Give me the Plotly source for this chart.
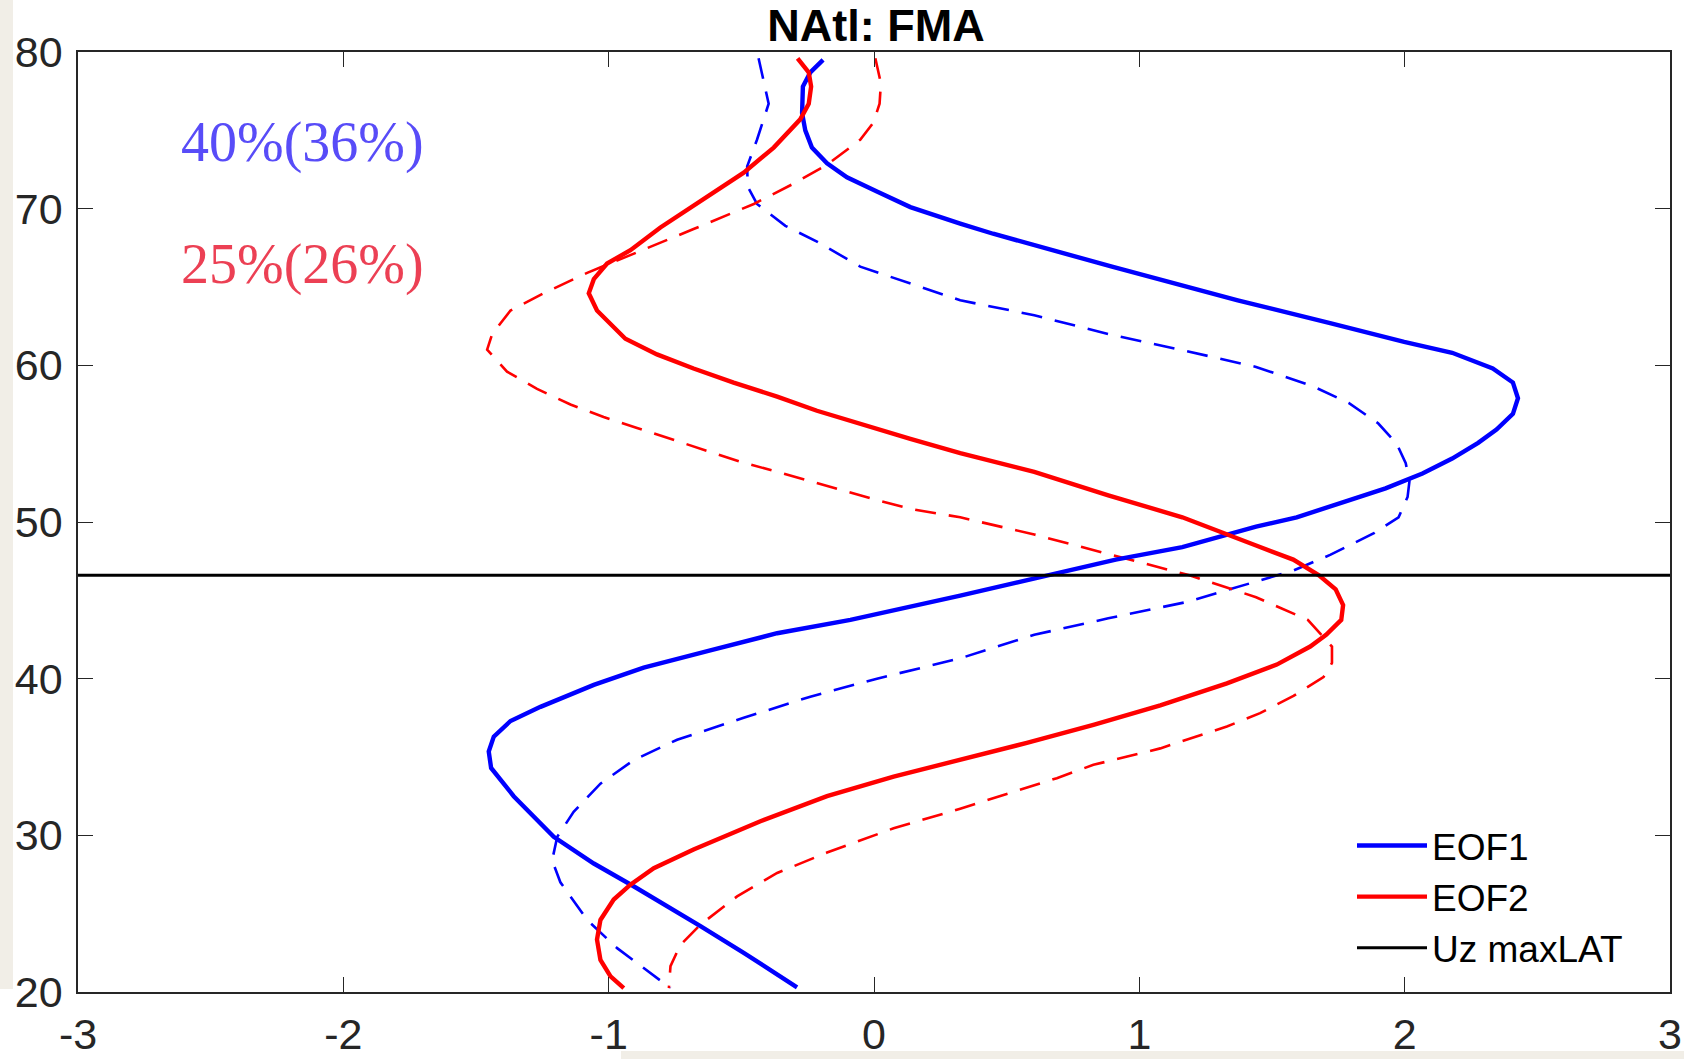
import plotly.graph_objects as go

# ---------------- data ----------------
eof1_lat = [79.5, 78.7, 77.8, 76.1, 75.0, 73.9, 72.9, 72.0, 71.1, 70.1, 69.05, 68.4, 66.3,
            64.15, 62.7, 61.5, 60.8, 59.8, 58.9, 57.9, 56.9, 55.9, 55.05, 54.05, 53.1, 52.15,
            51.3, 50.3, 49.7, 48.4, 47.6, 46.6, 45.3, 43.75, 42.9, 41.8, 40.7, 39.6, 38.2,
            37.3, 36.3, 35.35, 34.3, 32.5, 29.9, 28.2, 26.75, 24.2, 22.5, 20.3]
eof1_val = [-0.192, -0.24, -0.268, -0.271, -0.259, -0.234, -0.177, -0.102, 0.011, 0.137, 0.325,
            0.449, 0.897, 1.371, 1.719, 1.998, 2.179, 2.332, 2.408, 2.427, 2.408, 2.346, 2.277,
            2.179, 2.067, 1.928, 1.775, 1.593, 1.44, 1.162, 0.911, 0.66, 0.325, -0.089, -0.365,
            -0.617, -0.868, -1.056, -1.257, -1.37, -1.433, -1.452, -1.443, -1.358, -1.207,
            -1.056, -0.906, -0.654, -0.491, -0.29]

eof1_ref_lat = [79.6, 76.7, 74.4, 72.7, 71.4, 70.3, 68.9, 67.9, 66.3, 65.2, 64.15, 63.2, 62.0,
                60.97, 59.9, 58.7, 57.6, 56.3, 55.0, 53.75, 52.6, 51.6, 50.3, 49.3, 47.9, 46.9,
                46.2, 44.9, 43.85, 42.8, 41.3, 40.0, 38.85, 37.5, 36.1, 34.8, 33.3, 31.5, 29.9,
                28.4, 27.0, 24.6, 22.8, 21.4, 20.25]
eof1_ref_val = [-0.435, -0.397, -0.441, -0.478, -0.476, -0.441, -0.334, -0.215, -0.052, 0.137,
                0.325, 0.604, 0.883, 1.162, 1.44, 1.649, 1.789, 1.9, 1.97, 2.004, 2.018, 2.011,
                1.977, 1.886, 1.719, 1.58, 1.44, 1.18, 0.883, 0.604, 0.325, 0.011, -0.24, -0.491,
                -0.742, -0.906, -1.031, -1.132, -1.194, -1.213, -1.182, -1.081, -0.968, -0.855,
                -0.767]

eof2_lat = [79.6, 78.7, 77.8, 76.7, 75.7, 73.9, 72.3, 70.5, 68.8, 67.35, 66.5, 65.5, 64.6,
            63.5, 61.7, 60.7, 59.8, 58.9, 58.0, 57.1, 56.25, 55.3, 54.4, 53.2, 51.7, 50.3, 48.5,
            47.6, 46.6, 45.7, 44.7, 43.75, 42.8, 42.05, 40.9, 39.7, 38.3, 37.05, 35.9, 34.8,
            33.75, 32.5, 30.9, 29.1, 27.9, 26.85, 25.9, 24.6, 23.35, 22.05, 21.0, 20.25]
eof2_val = [-0.288, -0.246, -0.237, -0.246, -0.278, -0.378, -0.491, -0.654, -0.805, -0.918,
            -1.006, -1.056, -1.075, -1.044, -0.937, -0.818, -0.68, -0.529, -0.365, -0.215,
            -0.052, 0.137, 0.325, 0.604, 0.883, 1.162, 1.44, 1.58, 1.677, 1.74, 1.768, 1.761,
            1.704, 1.644, 1.518, 1.33, 1.079, 0.827, 0.576, 0.325, 0.074, -0.177, -0.428, -0.68,
            -0.83, -0.918, -0.981, -1.031, -1.044, -1.031, -0.993, -0.943]

eof2_ref_lat = [79.6, 78.0, 76.7, 75.5, 74.4, 72.8, 71.6, 70.3, 68.7, 67.1, 65.9, 64.6, 63.5,
                62.0, 61.0, 59.6, 58.5, 57.5, 56.7, 56.0, 55.3, 54.5, 53.85, 53.2, 52.6, 52.0,
                51.4, 50.8, 50.3, 49.2, 47.8, 46.6, 45.2, 43.75, 42.05, 41.0, 40.1, 38.9, 37.8,
                36.95, 35.55, 34.5, 33.65, 31.7, 30.45, 28.9, 27.6, 26.1, 24.3, 23.0, 21.65, 20.25]
eof2_ref_val = [0.005, 0.026, 0.021, -0.002, -0.052, -0.177, -0.303, -0.453, -0.68, -0.906,
                -1.081, -1.245, -1.37, -1.439, -1.458, -1.383, -1.27, -1.144, -1.019, -0.893,
                -0.767, -0.629, -0.504, -0.365, -0.24, -0.114, 0.011, 0.149, 0.325, 0.604, 0.925,
                1.189, 1.44, 1.635, 1.726, 1.726, 1.694, 1.581, 1.455, 1.33, 1.079, 0.827, 0.689,
                0.325, 0.074, -0.177, -0.365, -0.516, -0.654, -0.73, -0.767, -0.773]

uz_maxlat = 46.6
x_range = [-3, 3]
y_range = [20, 80]
x_ticks = [-3, -2, -1, 0, 1, 2, 3]
y_ticks = [20, 30, 40, 50, 60, 70, 80]
title_text = "NAtl: FMA"
var_eof1 = "40%(36%)"
var_eof2 = "25%(26%)"

# ---------------- figure ----------------
W, H = 1684, 1059
ML, MR, MT, MB = 78, 14, 52, 67
pw, ph = W - ML - MR, H - MT - MB

BLUE = "rgb(0,0,255)"
RED = "rgb(255,0,0)"

fig = go.Figure()

fig.add_trace(go.Scatter(x=eof1_ref_val, y=eof1_ref_lat, mode="lines", showlegend=False,
                         line=dict(color=BLUE, width=2.6, dash="21px,13px"), hoverinfo="skip"))
fig.add_trace(go.Scatter(x=eof2_ref_val, y=eof2_ref_lat, mode="lines", showlegend=False,
                         line=dict(color=RED, width=2.6, dash="21px,13px"), hoverinfo="skip"))
fig.add_trace(go.Scatter(x=eof1_val, y=eof1_lat, mode="lines", name="EOF1",
                         line=dict(color=BLUE, width=4.4)))
fig.add_trace(go.Scatter(x=eof2_val, y=eof2_lat, mode="lines", name="EOF2",
                         line=dict(color=RED, width=4.4)))
fig.add_trace(go.Scatter(x=x_range, y=[uz_maxlat, uz_maxlat], mode="lines", name="Uz maxLAT",
                         line=dict(color="black", width=2.8)))

tickfont = dict(family="Liberation Sans, Arial, Helvetica, sans-serif", size=43, color="#262626")
axis_common = dict(showgrid=False, zeroline=False, showline=True, mirror="ticks",
                   linecolor="#262626", linewidth=1.5, ticks="inside", ticklen=15,
                   tickwidth=1.2, tickcolor="#262626", tickfont=tickfont, automargin=False)

fig.update_xaxes(range=x_range, tickvals=x_ticks, ticktext=[str(v) for v in x_ticks],
                 ticklabelstandoff=4, **axis_common)
fig.update_yaxes(range=y_range, tickvals=y_ticks, ticktext=[str(v) for v in y_ticks],
                 ticklabelstandoff=5, **axis_common)

# explained-variance labels
fig.add_annotation(x=-2.62, y=74.2, xref="x", yref="y", text=var_eof1, showarrow=False,
                   xanchor="left", yanchor="middle",
                   font=dict(family="Liberation Serif, Times New Roman, serif", size=56,
                             color="rgb(88,76,248)"))
fig.add_annotation(x=-2.62, y=66.45, xref="x", yref="y", text=var_eof2, showarrow=False,
                   xanchor="left", yanchor="middle",
                   font=dict(family="Liberation Serif, Times New Roman, serif", size=56,
                             color="rgb(236,64,84)"))

# screenshot background strips
BEIGE = "#f1eee7"
def px2paper_x(px):
    return (px - ML) / pw
def px2paper_y(py):
    return (H - MB - py) / ph

fig.add_shape(type="rect", xref="paper", yref="paper", layer="below", line_width=0,
              fillcolor=BEIGE, x0=px2paper_x(0), x1=px2paper_x(13),
              y0=px2paper_y(989), y1=px2paper_y(0))
fig.add_shape(type="rect", xref="paper", yref="paper", layer="below", line_width=0,
              fillcolor=BEIGE, x0=px2paper_x(621), x1=px2paper_x(W),
              y0=px2paper_y(H), y1=px2paper_y(1051))

fig.update_layout(
    width=W, height=H,
    margin=dict(l=ML, r=MR, t=MT, b=MB, pad=0, autoexpand=False),
    paper_bgcolor="white", plot_bgcolor="white",
    title=dict(text="<b>" + title_text + "</b>", x=876 / W, xanchor="center",
               y=1 - 25 / H, yanchor="middle", yref="container", automargin=False,
               font=dict(family="Liberation Sans, Arial, Helvetica, sans-serif", size=45,
                         color="black")),
    legend=dict(x=px2paper_x(1352), y=px2paper_y(815), xanchor="left", yanchor="top",
                bgcolor="rgba(0,0,0,0)", borderwidth=0, itemwidth=70,
                font=dict(family="Liberation Sans, Arial, Helvetica, sans-serif", size=37,
                          color="black"),
                tracegroupgap=0),
    showlegend=True,
)

fig.write_html("out.html")
